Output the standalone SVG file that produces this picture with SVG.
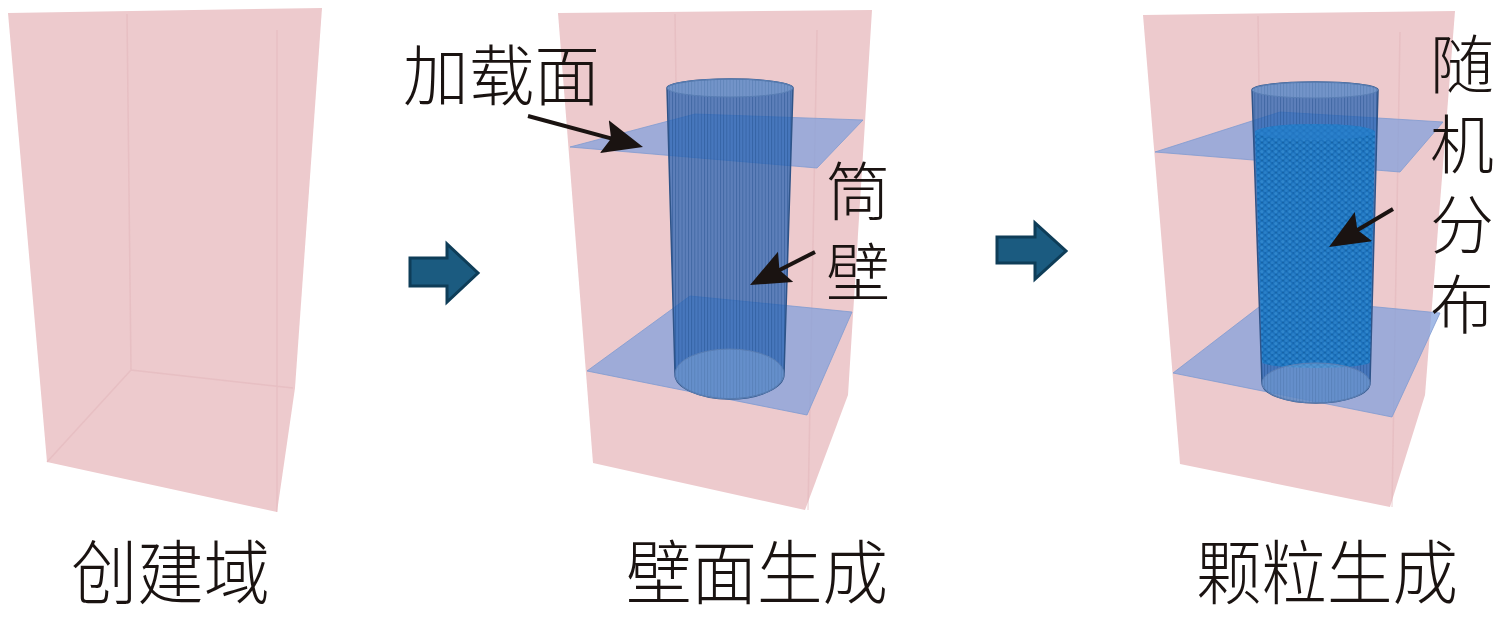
<svg xmlns="http://www.w3.org/2000/svg" width="1496" height="618" viewBox="0 0 1496 618">
<style>
.box{fill:#edcacd;stroke:none}
.edge{fill:none;stroke:#dfb0b5;stroke-width:1.5;opacity:.4}
.plate{fill:#7fa0dd;fill-opacity:.72;stroke:#7f9bd0;stroke-width:0.8}
.cyl{fill:#2563b3;fill-opacity:.72;stroke:#2f5488;stroke-width:1.5}
.cap{fill:#9fbde6;fill-opacity:.35;stroke:#5a7fb5;stroke-width:1}
.stripes{fill:url(#stripe)}
.step{fill:#1b5b80;stroke:#0e3d58;stroke-width:3;stroke-linejoin:miter}
.callout{fill:none;stroke:#1a1311;stroke-width:4;marker-end:url(#head)}
.lbl{font-family:"Noto Sans CJK SC","Noto Sans CJK JP",sans-serif;fill:#1a1311;font-weight:300}
</style>
<defs>
<marker id="head" markerUnits="userSpaceOnUse" markerWidth="42" markerHeight="36" refX="25" refY="17" orient="auto" viewBox="0 0 42 36">
<path d="M0,0 L40,17 L0,34 L7,17 Z" fill="#1a1311"/>
</marker>
<pattern id="stripe" patternUnits="userSpaceOnUse" width="3.2" height="10">
<rect x="0" y="0" width="0.9" height="10" fill="#1c4a86" fill-opacity="0.45"/>
</pattern>
<pattern id="grain" patternUnits="userSpaceOnUse" width="7" height="6">
<rect width="7" height="6" fill="#1d72bd"/>
<circle cx="1.8" cy="1.6" r="1.6" fill="#2f86cc"/>
<circle cx="5.3" cy="4.4" r="1.5" fill="#2a80c8"/>
<circle cx="5.2" cy="1.0" r="0.9" fill="#1565ac"/>
<circle cx="2.0" cy="4.6" r="0.8" fill="#13609f"/>
</pattern>
<clipPath id="c2"><path d="M667,88 A63,9 0 0 1 793,88 L784,374 A54.5,25 0 0 1 675,374 Z"/></clipPath>
<clipPath id="c3"><path d="M1252,90 A63,8 0 0 1 1378,90 L1370,383 A54,20 0 0 1 1262,383 Z"/></clipPath>
</defs>

<g id="box1">
<polygon class="box" points="8,13 322,8 295,388 277,512 47,462"/>
<path class="edge" d="M127,14 L131,370 L293,388 M131,370 L47,462 M277,30 L277,512"/>
</g>

<g id="box2">
<polygon class="box" points="558,13 872,10 848,395 805,510 593,463"/>
<path class="edge" d="M675,14 L680,372 M817,30 L808,510"/>
<polygon class="plate" points="587,371 690,296 852,312 807,415"/>
<polygon class="plate" points="570,147 695,114 863,120 817,168"/>
<path class="cyl" d="M667,88 A63,9 0 0 1 793,88 L784,374 A54.5,25 0 0 1 675,374 Z"/>
<rect class="stripes" x="660" y="75" width="140" height="330" clip-path="url(#c2)"/>
<ellipse class="cap" cx="729.5" cy="374" rx="54.5" ry="25"/>
<ellipse class="cap" cx="730" cy="88" rx="63" ry="9"/>
</g>

<g id="box3">
<polygon class="box" points="1143,15 1455,11 1425,395 1390,507 1180,464"/>
<path class="edge" d="M1258,16 L1263,372 M1400,32 L1392,507"/>
<polygon class="plate" points="1173,373 1272,297 1440,313 1392,417"/>
<polygon class="plate" points="1155,152 1280,112 1443,122 1400,172"/>
<path class="cyl" d="M1252,90 A63,8 0 0 1 1378,90 L1370,383 A54,20 0 0 1 1262,383 Z"/>
<rect class="stripes" x="1245" y="78" width="140" height="330" clip-path="url(#c3)"/>
<path d="M1255,132 A60,8 0 0 1 1375,132 L1370,362 A54,6 0 0 1 1262,362 Z" fill="url(#grain)"/>
<ellipse cx="1315" cy="132" rx="60" ry="8" fill="#2a7ecb" fill-opacity="0.6"/>
<ellipse class="cap" cx="1316" cy="383" rx="54" ry="20"/>
<ellipse class="cap" cx="1315" cy="90" rx="63" ry="8"/>
</g>

<g id="connectors">
<polygon id="step1" class="step" points="410,258 447,258 447,244 478,273 447,302 447,286 410,286"/>
<polygon id="step2" class="step" points="997,237 1035,237 1035,223 1066,251 1035,279 1035,263 997,263"/>
<line id="arrow-plate" class="callout" x1="528" y1="116" x2="628.5" y2="143.1"/>
<line id="arrow-wall" class="callout" x1="815" y1="252" x2="763.4" y2="278.2"/>
<line id="arrow-random" class="callout" x1="1393" y1="209" x2="1341.9" y2="239.3"/>
</g>

<g id="labels">
<text class="lbl" x="403" y="100" font-size="66" textLength="197" lengthAdjust="spacingAndGlyphs">加载面</text>
<text class="lbl" x="826" y="215" font-size="64">筒</text>
<text class="lbl" x="826" y="296" font-size="64">壁</text>
<text class="lbl" x="1430" y="88" font-size="64">随</text>
<text class="lbl" x="1430" y="168" font-size="64">机</text>
<text class="lbl" x="1430" y="248" font-size="64">分</text>
<text class="lbl" x="1430" y="328" font-size="64">布</text>
<text class="lbl" x="71" y="599" font-size="70" textLength="199" lengthAdjust="spacingAndGlyphs">创建域</text>
<text class="lbl" x="626" y="599" font-size="70" textLength="262" lengthAdjust="spacingAndGlyphs">壁面生成</text>
<text class="lbl" x="1196" y="599" font-size="70" textLength="262" lengthAdjust="spacingAndGlyphs">颗粒生成</text>
</g>
</svg>
